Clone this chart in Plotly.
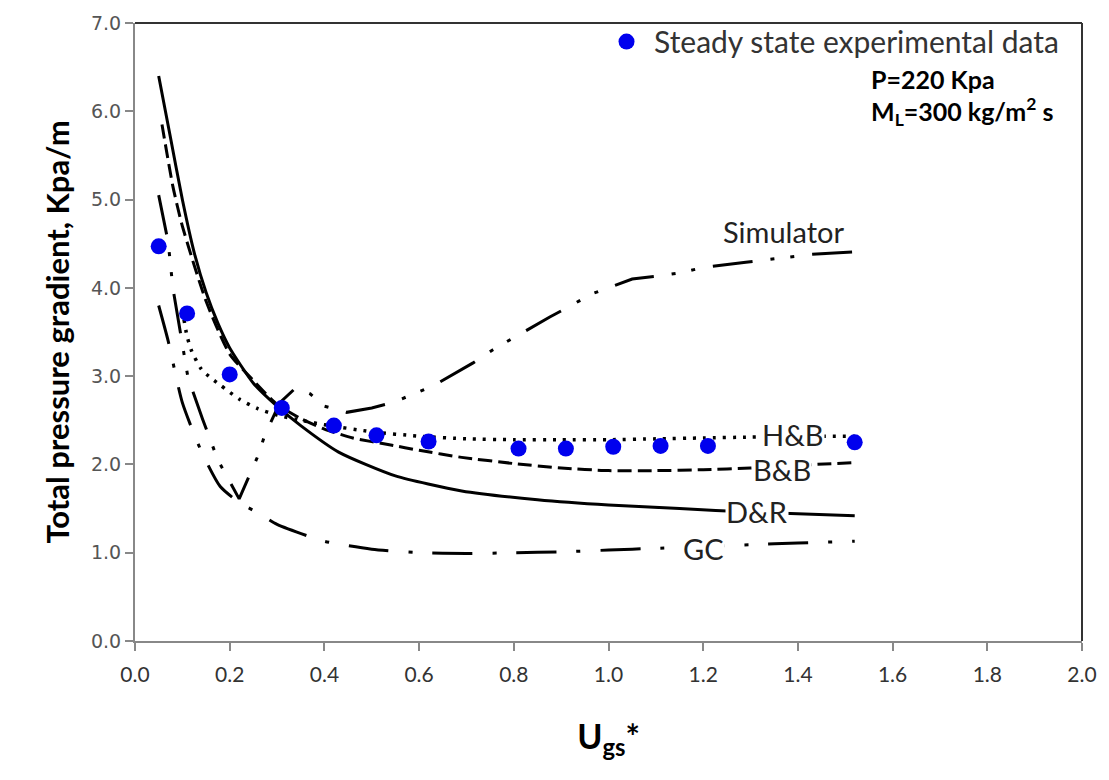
import plotly.graph_objects as go

# Experimental data
exp_x = [0.05, 0.11, 0.20, 0.31, 0.42, 0.51, 0.62, 0.81, 0.91, 1.01, 1.11, 1.21, 1.52]
exp_y = [4.47, 3.71, 3.02, 2.64, 2.44, 2.33, 2.26, 2.18, 2.18, 2.20, 2.21, 2.21, 2.25]

# D&R (solid)
dr_x = [0.05, 0.075, 0.10, 0.125, 0.15, 0.175, 0.20, 0.25, 0.30, 0.35, 0.43, 0.55, 0.69, 0.85, 1.00, 1.15, 1.30, 1.52]
dr_y = [6.40, 5.70, 5.00, 4.40, 3.95, 3.60, 3.32, 2.92, 2.66, 2.44, 2.14, 1.87, 1.70, 1.60, 1.54, 1.50, 1.46, 1.42]

# B&B (dashed)
bb_x = [0.057, 0.08, 0.10, 0.15, 0.20, 0.25, 0.30, 0.35, 0.40, 0.46, 0.54, 0.60, 0.69, 0.80, 0.90, 1.00, 1.10, 1.20, 1.30, 1.40, 1.52]
bb_y = [5.85, 5.15, 4.70, 3.85, 3.25, 2.95, 2.68, 2.52, 2.40, 2.30, 2.22, 2.16, 2.08, 2.01, 1.96, 1.93, 1.93, 1.94, 1.96, 1.99, 2.02]

# H&B (dotted)
hb_x = [0.10, 0.11, 0.12, 0.14, 0.16, 0.18, 0.22, 0.26, 0.30, 0.35, 0.40, 0.50, 0.60, 0.70, 0.80, 0.90, 1.00, 1.10, 1.20, 1.30, 1.40, 1.52]
hb_y = [3.75, 3.45, 3.28, 3.08, 2.98, 2.90, 2.74, 2.63, 2.56, 2.50, 2.45, 2.37, 2.32, 2.29, 2.28, 2.28, 2.28, 2.29, 2.30, 2.31, 2.32, 2.32]

# GC (dash-dot)
gc_x = [0.05, 0.07, 0.10, 0.14, 0.18, 0.22, 0.26, 0.30, 0.40, 0.50, 0.60, 0.70, 0.80, 0.90, 1.00, 1.10, 1.20, 1.30, 1.40, 1.52]
gc_y = [3.80, 3.40, 2.70, 2.15, 1.75, 1.57, 1.45, 1.32, 1.13, 1.04, 1.00, 0.99, 1.00, 1.01, 1.03, 1.05, 1.07, 1.09, 1.11, 1.13]

# Simulator (dash-dot-dot)
sim_x = [0.05, 0.07, 0.08, 0.095, 0.112, 0.143, 0.175, 0.22, 0.26, 0.274, 0.306, 0.34, 0.37, 0.40, 0.447, 0.50, 0.544, 0.63, 0.67, 0.714, 0.756, 0.833, 0.876, 0.921, 0.964, 1.05, 1.10, 1.15, 1.20, 1.29, 1.43, 1.53]
sim_y = [5.05, 4.52, 4.00, 3.52, 2.98, 2.51, 2.05, 1.61, 2.10, 2.33, 2.70, 2.87, 2.80, 2.66, 2.59, 2.64, 2.70, 2.89, 3.01, 3.15, 3.30, 3.54, 3.67, 3.80, 3.93, 4.10, 4.13, 4.17, 4.23, 4.29, 4.38, 4.41]

# Curve labels
lab_text = ["Simulator", "H&B", "B&B", "D&R", "GC"]
lab_x = [1.37, 1.39, 1.367, 1.314, 1.20]
lab_y = [4.64, 2.34, 1.94, 1.47, 1.05]

FONT = "Lato, Open Sans, sans-serif"

fig = go.Figure()

fig.add_trace(go.Scatter(x=sim_x, y=sim_y, mode="lines", showlegend=False,
                         line=dict(color="black", width=3, dash="40px,18px,4px,16px,4px,18px")))
fig.add_trace(go.Scatter(x=gc_x, y=gc_y, mode="lines", showlegend=False,
                         line=dict(color="black", width=3, dash="40px,20px,4px,20px", shape="spline", smoothing=0.6)))
fig.add_trace(go.Scatter(x=dr_x, y=dr_y, mode="lines", showlegend=False,
                         line=dict(color="black", width=3, shape="spline", smoothing=0.6)))
fig.add_trace(go.Scatter(x=bb_x, y=bb_y, mode="lines", showlegend=False,
                         line=dict(color="black", width=3, dash="14px,6px", shape="spline", smoothing=0.6)))
fig.add_trace(go.Scatter(x=hb_x, y=hb_y, mode="lines", showlegend=False,
                         line=dict(color="black", width=3.5, dash="3px,7px", shape="spline", smoothing=0.6)))
fig.add_trace(go.Scatter(x=exp_x, y=exp_y, mode="markers", name="Steady state experimental data",
                         marker=dict(color="#0000EE", size=16)))

for t, x, y in zip(lab_text, lab_x, lab_y):
    fig.add_annotation(x=x, y=y, text=t, showarrow=False, bgcolor="white", borderpad=0,
                       font=dict(family=FONT, size=29, color="#222222"))

fig.add_annotation(xref="paper", yref="paper", x=0.775, y=0.910, xanchor="left", yanchor="middle",
                   text="<b>P=220 Kpa</b>", showarrow=False,
                   font=dict(family=FONT, size=25, color="black"))
fig.add_annotation(xref="paper", yref="paper", x=0.775, y=0.857, xanchor="left", yanchor="middle",
                   text="<b>M<sub>L</sub>=300 kg/m<sup>2</sup> s</b>", showarrow=False,
                   font=dict(family=FONT, size=25, color="black"))

# top and right border
fig.add_shape(type="line", xref="paper", yref="paper", x0=0, x1=1, y0=1, y1=1,
              line=dict(color="#333333", width=2))
fig.add_shape(type="line", xref="paper", yref="paper", x0=1, x1=1, y0=0, y1=1,
              line=dict(color="#333333", width=2))

fig.update_layout(
    width=1109, height=780,
    margin=dict(l=135, r=24, t=16, b=139),
    plot_bgcolor="white", paper_bgcolor="white",
    legend=dict(x=0.49, y=1.012, xanchor="left", yanchor="top", itemwidth=45,
                font=dict(family=FONT, size=30, color="#333333"),
                bgcolor="rgba(0,0,0,0)"),
    xaxis=dict(range=[0, 2.0], tickmode="linear", tick0=0, dtick=0.2, tickformat=".1f",
               showgrid=False, zeroline=False, showline=True, linecolor="#888888", linewidth=2,
               ticks="outside", ticklen=8, tickcolor="#888888", tickwidth=1.5,
               ticklabelstandoff=6,
               tickfont=dict(family=FONT, size=21, color="#333333"),
               title=dict(text="<b>U<sub>gs</sub>*</b>", standoff=40,
                          font=dict(family=FONT, size=34, color="black"))),
    yaxis=dict(range=[0, 7.0], tickmode="linear", tick0=0, dtick=1, tickformat=".1f",
               showgrid=False, zeroline=False, showline=True, linecolor="#888888", linewidth=2,
               ticks="outside", ticklen=8, tickcolor="#888888", tickwidth=1.5,
               tickfont=dict(family="DejaVu Sans, sans-serif", size=19, color="#555555"),
               title=dict(text="<b>Total pressure gradient, Kpa/m</b>", standoff=12,
                          font=dict(family=FONT, size=31, color="black"))),
)

fig.write_html("out.html", config={"displayModeBar": False},
               post_script="document.body.style.margin='0';")
